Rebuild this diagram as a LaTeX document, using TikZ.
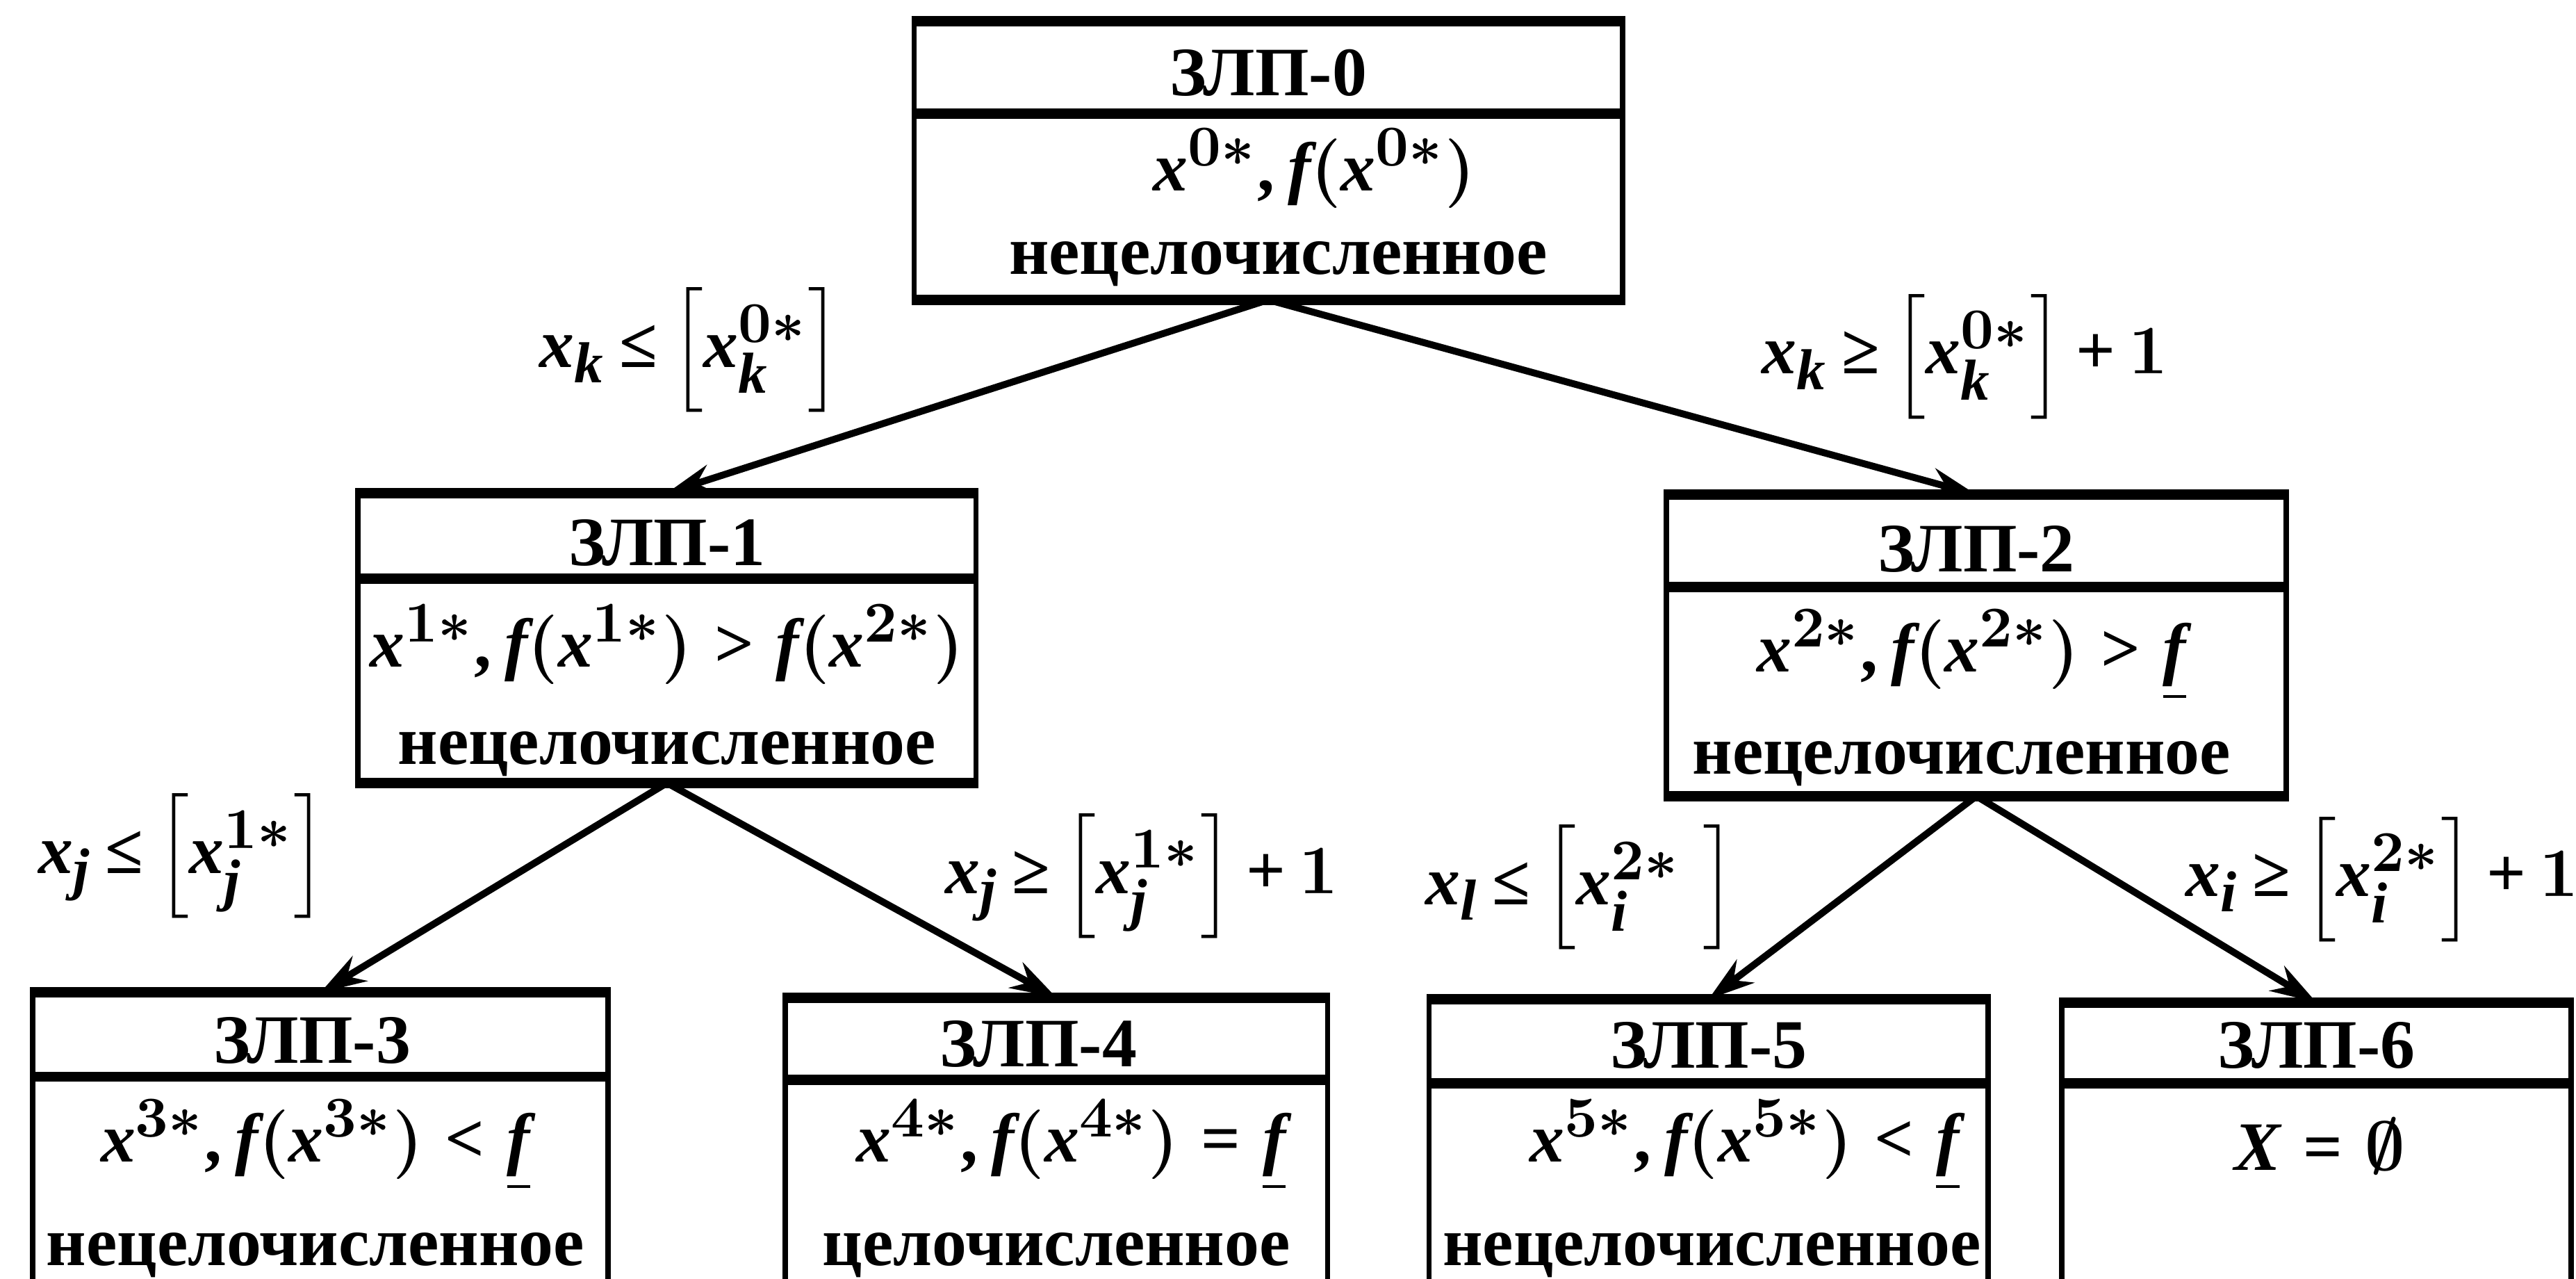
\documentclass[tikz,border=0pt]{standalone}
\usepackage{amsmath, amssymb}
\usepackage{fontspec}
\setmainfont{Liberation Serif}
\usepackage[italic]{mathastext}
\usepackage{tikz}
\usetikzlibrary{arrows.meta}
\newcommand{\zle}{\mathrel{\mkern-2mu\text{≤}\mkern-2mu}}
\newcommand{\zge}{\mathrel{\mkern-2mu\text{≥}\mkern-2mu}}
\newcommand{\zeq}{\mathrel{\text{=}}}
\newcommand{\zplus}{\mathbin{\mkern-1mu\text{+}\mkern-1mu}}

\begin{document}
\begin{tikzpicture}[x=0.01cm, y=-0.01cm,
    box/.style={draw, line width=0.9pt, inner sep=0pt, anchor=north},
    rule/.style={line width=1.8pt},
    txt/.style={inner sep=0pt, anchor=base, font=\fontsize{12}{14}\selectfont\bfseries\boldmath},
    frm/.style={inner sep=0pt, anchor=base, font=\fontsize{12}{14}\selectfont\bfseries\boldmath},
    cond/.style={inner sep=0pt, font=\fontsize{12}{14}\selectfont\bfseries\boldmath},
    arr/.style={-{Stealth[length=8pt,width=5pt]}, line width=1.2pt}]
    \useasboundingbox (0,0) rectangle (1568,778);
    % ZLP-0
    \node[box, minimum width=4.31cm, minimum height=0.53cm] (z0h) at (772,13) {};
    \node[box, minimum width=4.31cm, minimum height=1.10cm] (z0) at (z0h.south) {};
    \node[txt] (z0t) at (772,58) {ЗЛП-0};
    \node[frm] (z0f) at (800,116) {$x^{0*}, f(x^{0*})$};
    \node[txt] (z0s) at (778,167) {нецелочисленное};
    % ZLP-1
    \node[box, minimum width=3.76cm, minimum height=0.49cm] (z1h) at (406,300) {};
    \node[box, minimum width=3.76cm, minimum height=1.21cm] (z1) at (z1h.south) {};
    \node[txt] (z1t) at (406,344) {ЗЛП-1};
    \node[frm] (z1f) at (406,406) {$x^{1*}, f(x^{1*}) > f(x^{2*})$};
    \node[txt] (z1s) at (406,465) {нецелочисленное};
    % ZLP-2
    \node[box, minimum width=3.77cm, minimum height=0.53cm] (z2h) at (1203,301) {};
    \node[box, minimum width=3.77cm, minimum height=1.24cm] (z2) at (z2h.south) {};
    \node[txt] (z2t) at (1203,348) {ЗЛП-2};
    \node[frm] (z2f) at (1200,409) {$x^{2*}, f(x^{2*}) > \underline{f}$};
    \node[txt] (z2s) at (1194,471) {нецелочисленное};
    % ZLP-3
    \node[box, minimum width=3.50cm, minimum height=0.48cm] (z3h) at (195,604) {};
    \node[box, minimum width=3.50cm, minimum height=1.24cm] (z3) at (z3h.south) {};
    \node[txt] (z3t) at (190,647) {ЗЛП-3};
    \node[frm] (z3f) at (192,707) {$x^{3*}, f(x^{3*}) < \underline{f}$};
    \node[txt] (z3s) at (192,770) {нецелочисленное};
    % ZLP-4
    \node[box, minimum width=3.30cm, minimum height=0.47cm] (z4h) at (643,607) {};
    \node[box, minimum width=3.30cm, minimum height=1.22cm] (z4) at (z4h.south) {};
    \node[txt] (z4t) at (632,649) {ЗЛП-4};
    \node[frm] (z4f) at (652,707) {$x^{4*}, f(x^{4*}) \zeq \underline{f}$};
    \node[txt] (z4s) at (643,770) {целочисленное};
    % ZLP-5
    \node[box, minimum width=3.40cm, minimum height=0.48cm] (z5h) at (1040,608) {};
    \node[box, minimum width=3.40cm, minimum height=1.20cm] (z5) at (z5h.south) {};
    \node[txt] (z5t) at (1040,650) {ЗЛП-5};
    \node[frm] (z5f) at (1062,707) {$x^{5*}, f(x^{5*}) < \underline{f}$};
    \node[txt] (z5s) at (1042,770) {нецелочисленное};
    % ZLP-6
    \node[box, minimum width=3.10cm, minimum height=0.46cm] (z6h) at (1410,610) {};
    \node[box, minimum width=3.10cm, minimum height=1.20cm] (z6) at (z6h.south) {};
    \node[txt] (z6t) at (1410,650) {ЗЛП-6};
    \node[frm] (z6f) at (1412,712) {$X \zeq \emptyset$};
    % thick horizontal rules
    \draw[rule] (z0h.north west) -- (z0h.north east) (z0.north west) -- (z0.north east) (z0.south west) -- (z0.south east);
    \draw[rule] (z1h.north west) -- (z1h.north east) (z1.north west) -- (z1.north east) (z1.south west) -- (z1.south east);
    \draw[rule] (z2h.north west) -- (z2h.north east) (z2.north west) -- (z2.north east) (z2.south west) -- (z2.south east);
    \draw[rule] (z3h.north west) -- (z3h.north east) (z3.north west) -- (z3.north east) (z3.south west) -- (z3.south east);
    \draw[rule] (z4h.north west) -- (z4h.north east) (z4.north west) -- (z4.north east) (z4.south west) -- (z4.south east);
    \draw[rule] (z5h.north west) -- (z5h.north east) (z5.north west) -- (z5.north east) (z5.south west) -- (z5.south east);
    \draw[rule] (z6h.north west) -- (z6h.north east) (z6.north west) -- (z6.north east) (z6.south west) -- (z6.south east);
    % branching conditions
    \node[cond] (c1) at (420,213) {$x_k \zle \Bigl[x_k^{0*}\Bigr]$};
    \node[cond] (c2) at (1196,217) {$x_k \zge \Bigl[x_k^{0*}\Bigr] \zplus 1$};
    \node[cond] (c3) at (111,521) {$x_j \zle \Bigl[x_j^{1*}\Bigr]$};
    \node[cond] (c4) at (695,533) {$x_j \zge \Bigl[x_j^{1*}\Bigr] \zplus 1$};
    \node[cond] (c5) at (962,540) {$x_l \zle \Bigl[x_i^{2*}\;\Bigr]$};
    \node[cond] (c6) at (1450,535) {$x_i \zge \Bigl[x_i^{2*}\Bigr] \zplus 1$};
    % arrows
    \draw[arr] (z0.south) -- (z1h.north);
    \draw[arr] (z0.south) -- (z2h.north);
    \draw[arr] (z1.south) -- (z3h.north);
    \draw[arr] (z1.south) -- (z4h.north);
    \draw[arr] (z2.south) -- (z5h.north);
    \draw[arr] (z2.south) -- (z6h.north);
\end{tikzpicture}
\end{document}
